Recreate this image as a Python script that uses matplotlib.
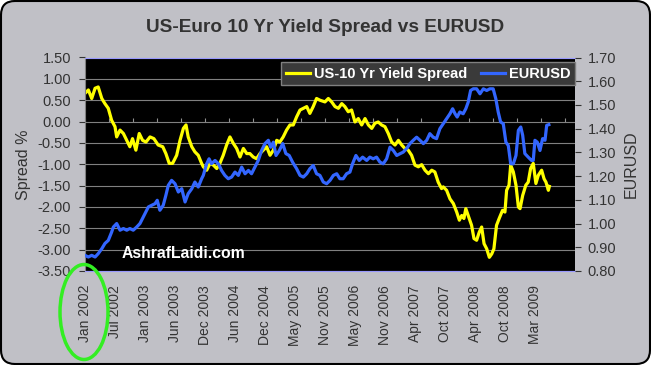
import numpy as np
import matplotlib.pyplot as plt
from matplotlib.patches import Ellipse, FancyBboxPatch
from matplotlib.transforms import IdentityTransform

plt.rcParams['font.family'] = ['Liberation Sans', 'DejaVu Sans']

# business-day index (0 = 2 Jan 2002)
spread_day = [0, 14, 28, 42, 55, 70, 83, 97, 111, 125,
              132, 146, 160, 174, 187, 198, 212, 226, 240, 254,
              271, 287, 305, 324, 337, 351, 365, 382, 396, 410,
              421, 430, 445, 458, 472, 486, 493, 507, 521, 535,
              549, 562, 576, 590, 604, 618, 632, 646, 660, 674,
              687, 701, 715, 729, 743, 757, 771, 785, 799, 812,
              826, 840, 854, 868, 882, 896, 910, 924, 937, 951,
              965, 979, 1000, 1014, 1028, 1042, 1056, 1070, 1083, 1097,
              1111, 1125, 1139, 1153, 1167, 1181, 1195, 1208, 1222, 1236,
              1250, 1264, 1278, 1292, 1306, 1320, 1333, 1347, 1361, 1375,
              1389, 1403, 1417, 1431, 1445, 1458, 1472, 1486, 1493, 1507,
              1521, 1535, 1549, 1560, 1570, 1579, 1587, 1597, 1611, 1621,
              1632, 1643, 1653, 1663, 1674, 1685, 1695, 1704, 1715, 1726,
              1740, 1750, 1757, 1767, 1774, 1785, 1796, 1806, 1813, 1824,
              1837, 1847, 1857, 1868, 1879, 1889, 1903, 1913, 1921, 1931,
              1935]
spread = [0.66, 0.74, 0.54, 0.78, 0.81, 0.54, 0.42, 0.31, 0.03, -0.12,
          -0.36, -0.20, -0.28, -0.44, -0.59, -0.40, -0.67, -0.28, -0.44, -0.48,
          -0.36, -0.40, -0.55, -0.59, -0.75, -0.98, -0.98, -0.79, -0.44, -0.16,
          -0.08, -0.36, -0.59, -0.71, -0.79, -0.98, -1.06, -1.14, -0.98, -1.02,
          -1.10, -0.98, -0.79, -0.55, -0.36, -0.51, -0.63, -0.83, -0.63, -0.75,
          -0.75, -0.83, -0.87, -0.75, -0.67, -0.59, -0.79, -0.67, -0.44, -0.48,
          -0.36, -0.20, -0.08, -0.08, 0.11, 0.27, 0.31, 0.35, 0.19, 0.35,
          0.54, 0.50, 0.46, 0.54, 0.46, 0.35, 0.31, 0.42, 0.35, 0.23,
          0.27, -0.01, 0.07, -0.08, 0.07, -0.08, -0.16, -0.04, -0.01, -0.08,
          -0.12, -0.28, -0.48, -0.55, -0.44, -0.55, -0.63, -0.67, -0.79, -1.02,
          -1.06, -1.01, -1.14, -1.22, -1.14, -1.18, -1.42, -1.57, -1.53, -1.61,
          -1.81, -1.92, -2.12, -2.31, -2.20, -2.27, -2.04, -2.20, -2.43, -2.74,
          -2.78, -2.59, -2.47, -2.86, -2.98, -3.18, -3.10, -2.98, -2.43, -2.27,
          -2.08, -2.12, -1.61, -1.49, -1.02, -1.18, -1.49, -2.00, -2.04, -1.73,
          -1.49, -1.42, -1.10, -0.98, -1.45, -1.26, -1.14, -1.34, -1.42, -1.61,
          -1.52]

eurusd_day = [0, 14, 28, 42, 55, 70, 83, 97, 111, 118,
              132, 146, 160, 174, 187, 201, 215, 229, 236, 250,
              264, 278, 292, 301, 312, 326, 337, 347, 361, 375,
              389, 403, 417, 430, 445, 458, 472, 486, 493, 507,
              517, 527, 542, 556, 569, 583, 597, 611, 625, 639,
              653, 667, 681, 694, 708, 722, 736, 750, 764, 774,
              785, 796, 810, 824, 837, 851, 865, 882, 896, 910,
              924, 937, 951, 965, 979, 993, 1007, 1021, 1035, 1049,
              1062, 1076, 1090, 1104, 1115, 1129, 1143, 1157, 1174, 1187,
              1201, 1215, 1229, 1243, 1257, 1271, 1285, 1299, 1312, 1326,
              1340, 1354, 1368, 1382, 1396, 1410, 1424, 1437, 1451, 1465,
              1479, 1493, 1507, 1521, 1532, 1542, 1551, 1562, 1576, 1587,
              1597, 1607, 1618, 1632, 1646, 1660, 1674, 1687, 1701, 1712,
              1722, 1732, 1743, 1754, 1764, 1774, 1785, 1796, 1806, 1816,
              1824, 1833, 1847, 1861, 1868, 1875, 1885, 1896, 1907, 1917,
              1924, 1933]
eurusd = [0.866, 0.859, 0.866, 0.859, 0.873, 0.894, 0.916, 0.929, 0.964, 0.985,
          1.000, 0.972, 0.979, 0.972, 0.979, 0.972, 0.985, 1.000, 1.014, 1.042,
          1.070, 1.077, 1.084, 1.098, 1.056, 1.077, 1.119, 1.161, 1.182, 1.168,
          1.133, 1.147, 1.091, 1.126, 1.147, 1.175, 1.154, 1.189, 1.203, 1.252,
          1.273, 1.252, 1.266, 1.252, 1.224, 1.203, 1.189, 1.196, 1.217, 1.203,
          1.238, 1.210, 1.224, 1.210, 1.238, 1.266, 1.308, 1.337, 1.351, 1.322,
          1.343, 1.287, 1.308, 1.337, 1.295, 1.287, 1.259, 1.231, 1.203, 1.196,
          1.210, 1.231, 1.245, 1.210, 1.203, 1.175, 1.168, 1.182, 1.203, 1.210,
          1.189, 1.189, 1.210, 1.217, 1.252, 1.287, 1.266, 1.280, 1.266, 1.280,
          1.273, 1.280, 1.259, 1.252, 1.273, 1.322, 1.308, 1.287, 1.294, 1.301,
          1.316, 1.337, 1.351, 1.364, 1.351, 1.337, 1.351, 1.379, 1.364, 1.358,
          1.400, 1.421, 1.442, 1.463, 1.484, 1.463, 1.449, 1.470, 1.463, 1.484,
          1.512, 1.561, 1.568, 1.568, 1.547, 1.568, 1.561, 1.568, 1.568, 1.526,
          1.470, 1.428, 1.421, 1.343, 1.329, 1.252, 1.252, 1.287, 1.393, 1.407,
          1.372, 1.295, 1.280, 1.266, 1.266, 1.351, 1.343, 1.308, 1.358, 1.351,
          1.414, 1.417]

tick_labels = ['Jan 2002', 'Jul 2002', 'Jan 2003', 'Jun 2003', 'Dec 2003',
               'Jun 2004', 'Dec 2004', 'May 2005', 'Nov 2005', 'May 2006',
               'Nov 2006', 'Apr 2007', 'Oct 2007', 'Apr 2008', 'Oct 2008',
               'Mar 2009']
days_per_label = 125
last_day = 2042

txt = '#333333'

fig = plt.figure(figsize=(6.51, 3.65), dpi=100)
fig.patch.set_facecolor('white')
fig.patches.append(FancyBboxPatch((1, 1), 649, 363, boxstyle='round,pad=0,rounding_size=14',
                                  transform=IdentityTransform(), fc='#c0c0c6', ec='black',
                                  lw=1.5, zorder=-5))

fig.text(0.5, 1 - 28 / 365, 'US-Euro 10 Yr Yield Spread vs EURUSD', ha='center', va='center',
         fontsize=13.7, fontweight='bold', color=txt)

ax = fig.add_axes([85 / 651, 94 / 365, 490 / 651, 213.5 / 365])
ax.set_facecolor('black')
ax2 = ax.twinx()

l1, = ax.plot(spread_day, spread, color='#ffff00', lw=2.3)
l2, = ax2.plot(eurusd_day, eurusd, color='#3366ff', lw=2.3)

ax.set_xlim(0, last_day)
ax.set_ylim(-3.5, 1.5)
ax.set_yticks(np.arange(-3.5, 1.51, 0.5))
ax.set_yticklabels(['%.2f' % v for v in np.arange(-3.5, 1.51, 0.5)])
ax2.set_ylim(0.8, 1.7)
ax2.set_yticks(np.arange(0.8, 1.71, 0.1))
ax2.set_yticklabels(['%.2f' % v for v in np.arange(0.8, 1.71, 0.1)])

ax.set_xticks(np.arange(len(tick_labels)) * days_per_label)
ax.set_xticklabels(tick_labels, rotation=90)

ax.yaxis.grid(True, color='#808080', lw=0.8)
ax.set_axisbelow(True)

ax.tick_params(axis='y', direction='out', length=4, color=txt, labelsize=10.5,
               labelcolor=txt, pad=6)
ax.tick_params(axis='x', length=0, labelsize=10, labelcolor=txt, pad=10)
ax2.tick_params(axis='y', direction='out', length=4, color=txt, labelsize=10.5,
                labelcolor=txt, pad=5)

for s in ['top', 'bottom']:
    ax.spines[s].set_color('#9999ff')
ax.spines['left'].set_color('#808080')
ax.spines['right'].set_visible(False)
for s in ax2.spines.values():
    s.set_visible(False)

# small tick marks along the zero line
sec = ax.secondary_xaxis(0.7)
sec.set_xticks(np.arange(0, 2001, 100))
sec.tick_params(length=3, color='#909090', labeltop=False, labelbottom=False)
for s in sec.spines.values():
    s.set_visible(False)

ax.set_ylabel('Spread %', fontsize=11.5, color=txt)
ax.yaxis.set_label_coords(-54 / 490, 0.5)
ax2.set_ylabel('EURUSD', fontsize=11.5, color=txt)
ax2.yaxis.set_label_coords(1 + 49 / 490, 0.5)

ax2.text(37 / 490, 17 / 213.5, 'AshrafLaidi.com', transform=ax2.transAxes, color='white',
         fontsize=11.3, fontweight='bold', va='center', ha='left')

leg = ax2.legend([l1, l2], ['US-10 Yr Yield Spread', 'EURUSD'], loc='upper right',
                 bbox_to_anchor=(1.0, 1 - 4.8 / 213.5), ncol=2, fancybox=False,
                 facecolor='#3a3a3a', edgecolor='#808080', framealpha=1, borderaxespad=0,
                 prop={'weight': 'bold', 'size': 10.5}, handlelength=1.65,
                 handletextpad=0.3, columnspacing=0.9, borderpad=0.3)
for t in leg.get_texts():
    t.set_color('white')
leg.get_frame().set_linewidth(1)

fig.patches.append(Ellipse((84 / 651, 1 - 312 / 365), 48 / 651, 95 / 365,
                           transform=fig.transFigure, fill=False, ec='#33ee22', lw=2.5,
                           zorder=5))

fig.savefig('out.png', dpi=100, facecolor=fig.get_facecolor())
